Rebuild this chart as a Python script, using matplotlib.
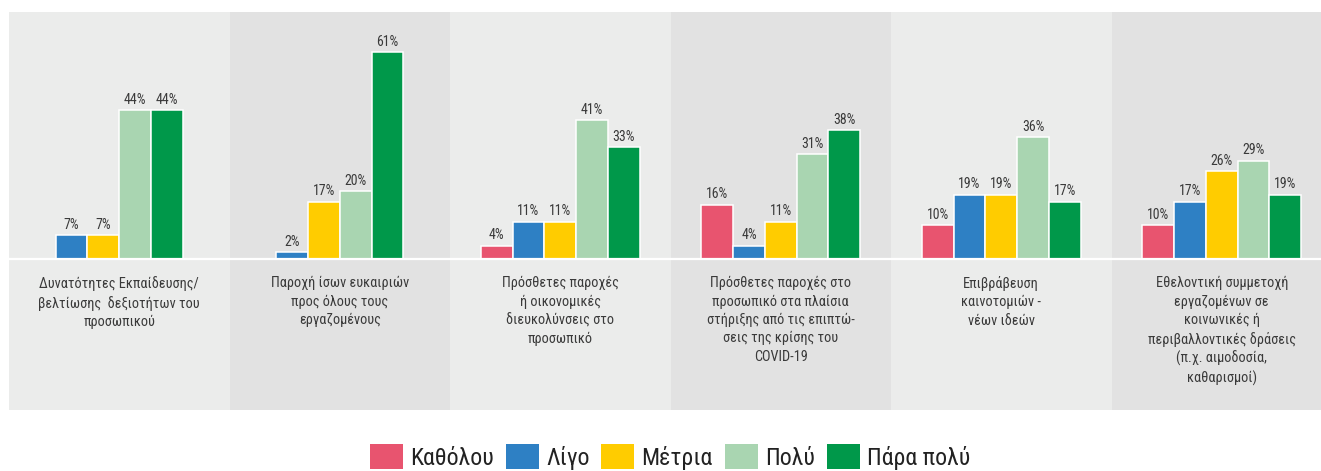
import numpy as np
import matplotlib.pyplot as plt
from matplotlib import font_manager
from matplotlib.patches import Patch

# Data (percent); nan = no bar in that group
categories = [
    'Δυνατότητες Εκπαίδευσης/\nβελτίωσης  δεξιοτήτων του\nπροσωπικού',
    'Παροχή ίσων ευκαιριών\nπρος όλους τους\nεργαζομένους',
    'Πρόσθετες παροχές\nή οικονομικές\nδιευκολύνσεις στο\nπροσωπικό',
    'Πρόσθετες παροχές στο\nπροσωπικό στα πλαίσια\nστήριξης από τις επιπτώ-\nσεις της κρίσης του\nCOVID-19',
    'Επιβράβευση\nκαινοτομιών -\nνέων ιδεών',
    'Εθελοντική συμμετοχή\nεργαζομένων σε\nκοινωνικές ή\nπεριβαλλοντικές δράσεις\n(π.χ. αιμοδοσία,\nκαθαρισμοί)',
]
series_names = ['Καθόλου', 'Λίγο', 'Μέτρια', 'Πολύ', 'Πάρα πολύ']
kathólou = [np.nan, np.nan, 4, 16, 10, 10]
ligo = [7, 2, 11, 4, 19, 17]
metria = [7, 17, 11, 11, 19, 26]
poly = [44, 20, 41, 31, 36, 29]
para_poly = [44, 61, 33, 38, 17, 19]
series_values = [kathólou, ligo, metria, poly, para_poly]
colors = ['#E8546F', '#2E80C4', '#FFCC00', '#A9D5B1', '#00984A']

# font: prefer a narrow face if one happens to be installed
names = {f.name for f in font_manager.fontManager.ttflist}
font = next((n for n in ['Liberation Sans Narrow', 'Roboto Condensed', 'Roboto'] if n in names), 'DejaVu Sans')
plt.rcParams['font.family'] = [font, 'DejaVu Sans']
text_color = '#3a3a3a'

W, H = 1321, 471
fig = plt.figure(figsize=(W / 100, H / 100), dpi=100)
panel_px = 220.5
ax = fig.add_axes([9 / W, 1 - 410 / H, (W - 9) / W, 398 / H])
ax.set_xlim(0, (W - 9) / panel_px)
ax.set_ylim(-44.5, 72.9)
ax.axis('off')

# alternating panel backgrounds
for i in range(len(categories)):
    ax.axvspan(i, i + 1, color='#EBECEB' if i % 2 == 0 else '#E2E2E2', lw=0, zorder=0)
ax.axhline(0, color='white', lw=1.6, zorder=3)

pitch = 0.144
for i, cat in enumerate(categories):
    present = [s for s in range(len(series_names)) if not np.isnan(series_values[s][i])]
    n = len(present)
    for k, s in enumerate(present):
        v = series_values[s][i]
        x = i + 0.5 + (k - (n - 1) / 2) * pitch
        ax.bar(x, v, width=pitch, color=colors[s], edgecolor='white', linewidth=1.1, zorder=2)
        ax.annotate(f'{v:.0f}%', (x, v), xytext=(0, 2.5), textcoords='offset points',
                    ha='center', va='bottom', fontsize=10, color=text_color)
    ax.text(i + 0.5, -5.0, cat, ha='center', va='top', fontsize=10.3, color=text_color,
            linespacing=1.38)

handles = [Patch(facecolor=c, edgecolor='none') for c in colors]
fig.legend(handles, series_names, loc='center', bbox_to_anchor=(670 / W, 1 - 457 / H), ncol=5,
           frameon=False, fontsize=17.2, handlelength=1.38, handleheight=1.2,
           handletextpad=0.3, columnspacing=0.5, labelcolor='#222222')

fig.savefig('out.png', dpi=100)
